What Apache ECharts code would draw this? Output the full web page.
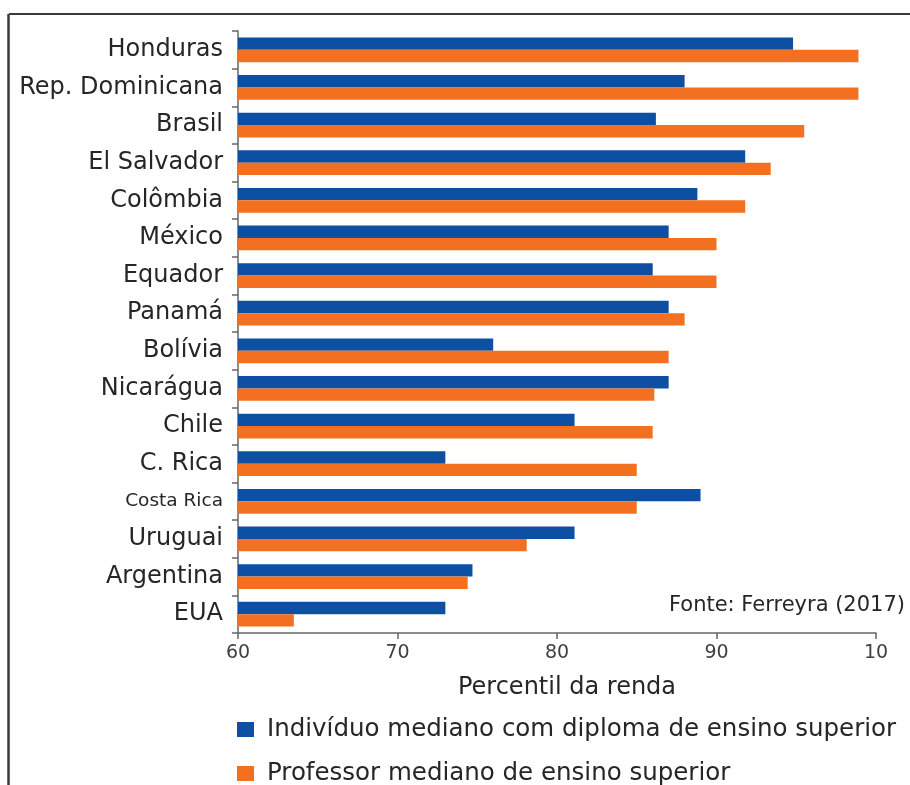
<!DOCTYPE html>
<html>
<head>
<meta charset="utf-8">
<script src="https://cdn.jsdelivr.net/npm/echarts@6/dist/echarts.min.js"></script>
<style>html,body{margin:0;padding:0;background:#fff;}#c{width:910px;height:785px;}</style>
</head>
<body>
<div id="c"></div>
<script>
const countries = ['Honduras','Rep. Dominicana','Brasil','El Salvador','Colômbia','México','Equador','Panamá','Bolívia','Nicarágua','Chile','C. Rica','Costa Rica','Uruguai','Argentina','EUA'];
const graduateValues = [94.8, 88.0, 86.2, 91.8, 88.8, 87.0, 86.0, 87.0, 76.0, 87.0, 81.1, 73.0, 89.0, 81.1, 74.7, 73.0];
const professorValues = [98.9, 98.9, 95.5, 93.4, 91.8, 90.0, 90.0, 88.0, 87.0, 86.1, 86.0, 85.0, 85.0, 78.1, 74.4, 63.5];
const seriesNames = ['Indivíduo mediano com diploma de ensino superior', 'Professor mediano de ensino superior'];
const tickLabels = ['60', '70', '80', '90', '10'];
const axisTitle = 'Percentil da renda';
const sourceNote = 'Fonte: Ferreyra (2017)';

const FONT = 'DejaVu Sans';
const legendText = { fontFamily: FONT, fontSize: 24.5, color: '#262626', lineHeight: 24, padding: [0, 0, 0, 8] };
const chart = echarts.init(document.getElementById('c'));
chart.setOption({
  animation: false,
  grid: { left: 238, right: 34, top: 31, bottom: 152, containLabel: false },
  legend: [
    { left: 232, top: 712, itemWidth: 17, itemHeight: 15, icon: 'rect', textStyle: legendText, data: [seriesNames[0]] },
    { left: 232, top: 756, itemWidth: 17, itemHeight: 15, icon: 'rect', textStyle: legendText, data: [seriesNames[1]] }
  ],
  xAxis: {
    type: 'value', min: 60, max: 100, interval: 10,
    splitLine: { show: false },
    axisLine: { show: true, lineStyle: { color: '#666', width: 1.5 } },
    axisTick: { show: true, length: 6, lineStyle: { color: '#666', width: 1.5 } },
    axisLabel: { fontFamily: FONT, fontSize: 19, color: '#404040', margin: 11,
      formatter: v => tickLabels[Math.round((v - 60) / 10)] },
    name: axisTitle, nameLocation: 'middle', nameGap: 43,
    nameTextStyle: { fontFamily: FONT, fontSize: 24, color: '#262626', padding: [0, 0, 0, 20] }
  },
  yAxis: {
    type: 'category', inverse: true, data: countries,
    axisLine: { show: true, lineStyle: { color: '#666', width: 1.5 } },
    axisTick: { show: true, length: 6, lineStyle: { color: '#666', width: 1.5 } },
    axisLabel: { fontFamily: FONT, fontSize: 24, color: '#262626', margin: 15,
      formatter: v => v === 'Costa Rica' ? '{s|' + v + '}' : v,
      rich: { s: { fontFamily: FONT, fontSize: 18.5, color: '#262626' } } }
  },
  series: [
    { type: 'bar', name: seriesNames[0], data: graduateValues, itemStyle: { color: '#0d4fa3' }, barGap: '0%', barCategoryGap: '34%' },
    { type: 'bar', name: seriesNames[1], data: professorValues, itemStyle: { color: '#f37021' }, barGap: '0%', barCategoryGap: '34%' }
  ],
  graphic: [
    { type: 'line', shape: { x1: 9, y1: 14, x2: 910, y2: 14 }, style: { stroke: '#3a3a3a', lineWidth: 2 } },
    { type: 'line', shape: { x1: 8.5, y1: 14, x2: 8.5, y2: 785 }, style: { stroke: '#3a3a3a', lineWidth: 2.5 } },
    { type: 'text', right: 5, top: 595, style: { text: sourceNote, fontFamily: FONT, fontSize: 21, fill: '#262626' } }
  ]
});
</script>
</body>
</html>
